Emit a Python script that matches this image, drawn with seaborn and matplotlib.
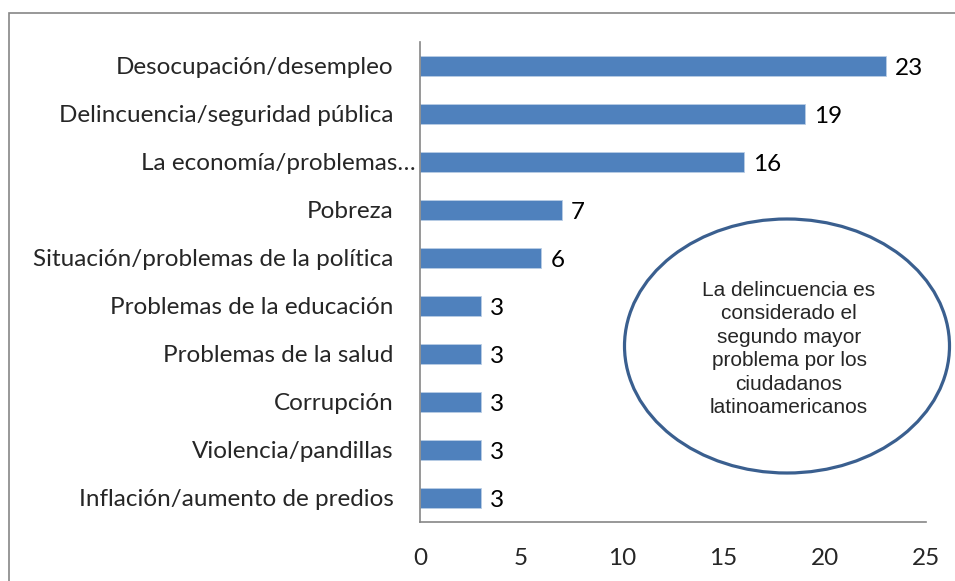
import numpy as np
import pandas as pd
import seaborn as sns
import matplotlib.pyplot as plt
from matplotlib.patches import Ellipse, Rectangle
from matplotlib.transforms import ScaledTranslation

# datos del gráfico (de arriba hacia abajo)
problemas = ['Desocupación/desempleo', 'Delincuencia/seguridad pública',
             'La economía/problemas…', 'Pobreza',
             'Situación/problemas de la política', 'Problemas de la educación',
             'Problemas de la salud', 'Corrupción', 'Violencia/pandillas',
             'Inflación/aumento de predios']
porcentajes = [23, 19, 16, 7, 6, 3, 3, 3, 3, 3]
xticks = [0, 5, 10, 15, 20, 25]
nota = ('La delincuencia es\nconsiderado el\nsegundo mayor\n'
        'problema por los\nciudadanos\nlatinoamericanos')

df = pd.DataFrame({'problema': problemas, 'pct': porcentajes})

sns.set_style('white')
plt.rcParams['font.family'] = ['Lato', 'DejaVu Sans']

fig = plt.figure(figsize=(9.55, 5.81), dpi=100)
ax = fig.add_axes([420 / 955, 1 - 522 / 581, 506 / 955, 480 / 581])

sns.barplot(data=df, x='pct', y='problema', orient='h', color='#4F81BD',
            width=0.4, saturation=1, edgecolor='#B9CDE5', linewidth=0.6, ax=ax)

fs = 17.5
# etiquetas de datos, un poco más abajo del centro de la barra (como Excel)
for p, v in zip(ax.containers[0], porcentajes):
    ax.annotate(f'{v}', (p.get_width(), p.get_y() + p.get_height() / 2),
                xytext=(6.5, -2), textcoords='offset points',
                ha='left', va='center', fontsize=fs, color='black')

ax.set_xlim(0, 25)
ax.set_ylim(len(problemas) - 0.5, -0.5)
ax.set_xticks(xticks)
ax.set_xlabel('')
ax.set_ylabel('')

gris = '#868686'
for s in ['top', 'right']:
    ax.spines[s].set_visible(False)
for s in ['left', 'bottom']:
    ax.spines[s].set_color(gris)
    ax.spines[s].set_linewidth(1.2)

# ticks del eje y entre categorías (estilo Excel)
ax.set_yticks(np.arange(-0.5, len(problemas), 1), minor=True)
ax.tick_params(axis='y', which='major', length=0, pad=19, labelsize=fs)
ax.tick_params(axis='y', which='minor', length=6, color=gris, width=1.2)
ax.tick_params(axis='x', length=6, color=gris, width=1.2, pad=13, labelsize=fs)

# la etiqueta truncada queda más a la derecha
for lbl in ax.get_yticklabels():
    if lbl.get_text().endswith('…'):
        lbl.set_transform(lbl.get_transform() +
                          ScaledTranslation(22 / 100, 0, fig.dpi_scale_trans))

# óvalo con la nota
ell = Ellipse((787 / 955, 1 - 346 / 581), 325 / 955, 254 / 581,
              transform=fig.transFigure, facecolor='white',
              edgecolor='#3A5F8F', linewidth=2.3, zorder=5)
fig.patches.append(ell)
fig.text(789 / 955, 1 - 349 / 581, nota, ha='center', va='center',
         fontsize=15, family=['Liberation Sans', 'DejaVu Sans'],
         linespacing=1.3, zorder=6)

# marco del gráfico
fig.patches.append(Rectangle((9 / 955, -0.1), 1.2, 1.1 - 13 / 581,
                             transform=fig.transFigure, fill=False,
                             edgecolor=gris, linewidth=1.2))

plt.savefig('out.png', dpi=100)
